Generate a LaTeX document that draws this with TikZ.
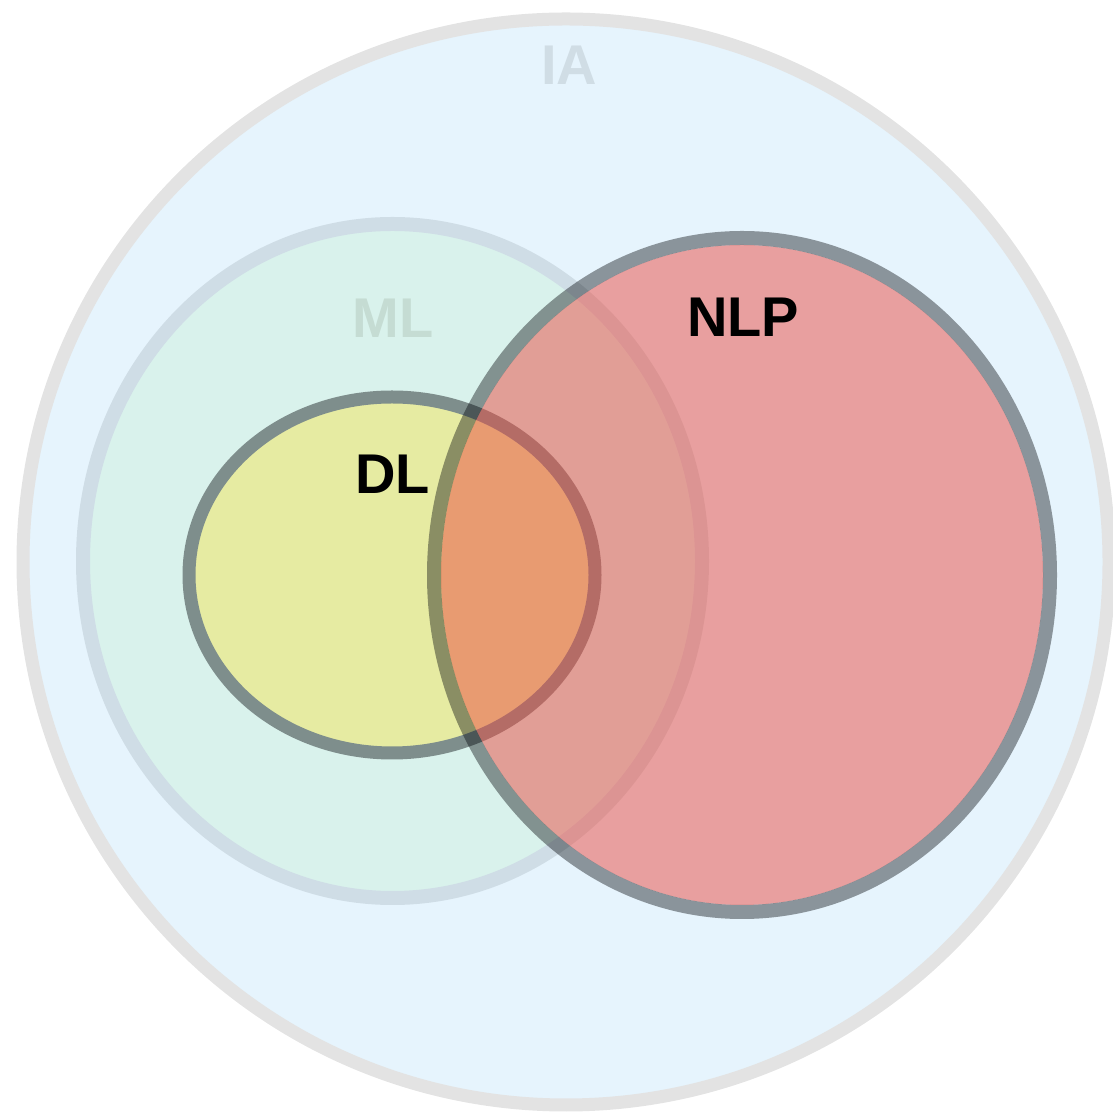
\documentclass[tikz,border=0pt]{standalone}
\usepackage{fontspec}
\setmainfont{Liberation Sans}
\begin{document}
\definecolor{iafill}{RGB}{230,244,253}
\definecolor{iaedge}{RGB}{227,227,227}
\definecolor{iatext}{RGB}{208,221,229}
\definecolor{mlfill}{RGB}{217,242,236}
\definecolor{mledge}{RGB}{207,221,230}
\definecolor{mltext}{RGB}{197,220,211}
\definecolor{dlfill}{RGB}{230,235,162}
\definecolor{dledge}{RGB}{126,142,140}
\definecolor{nlpfill}{RGB}{234,76,66}
\definecolor{nlpedge}{RGB}{0,4,8}
\begin{tikzpicture}[x=1pt,y=1pt,
  setlabel/.style={inner sep=0pt,anchor=base,
    font=\fontsize{56}{60}\selectfont\bfseries}]
  \useasboundingbox (0,0) rectangle (1112,1113);
  % outer set: IA
  \path[fill=iafill,draw=iaedge,line width=13pt]
    (566,551) circle[radius=543];
  % machine learning
  \path[fill=mlfill,draw=mledge,line width=14pt]
    (392.5,552) ellipse[x radius=309.5,y radius=337];
  % deep learning
  \path[fill=dlfill,draw=dledge,line width=13pt]
    (392,538) ellipse[x radius=203,y radius=178];
  % natural language processing, translucent over the others;
  % the fill stops at the inner edge of the outline
  \path[fill=nlpfill,fill opacity=0.5]
    (742,538) ellipse[x radius=301,y radius=330];
  \path[draw=nlpedge,draw opacity=0.4,line width=14pt]
    (742,538) ellipse[x radius=308,y radius=337];
  % labels
  \node[setlabel,text=iatext] (ia) at (569,1028) {IA};
  \node[setlabel,text=mltext] (ml) at (393,775) {ML};
  \node[setlabel,text=black] (dl) at (392.5,619) {DL};
  \node[setlabel,text=black] (nlp) at (743,776) {NLP};
\end{tikzpicture}
\end{document}
